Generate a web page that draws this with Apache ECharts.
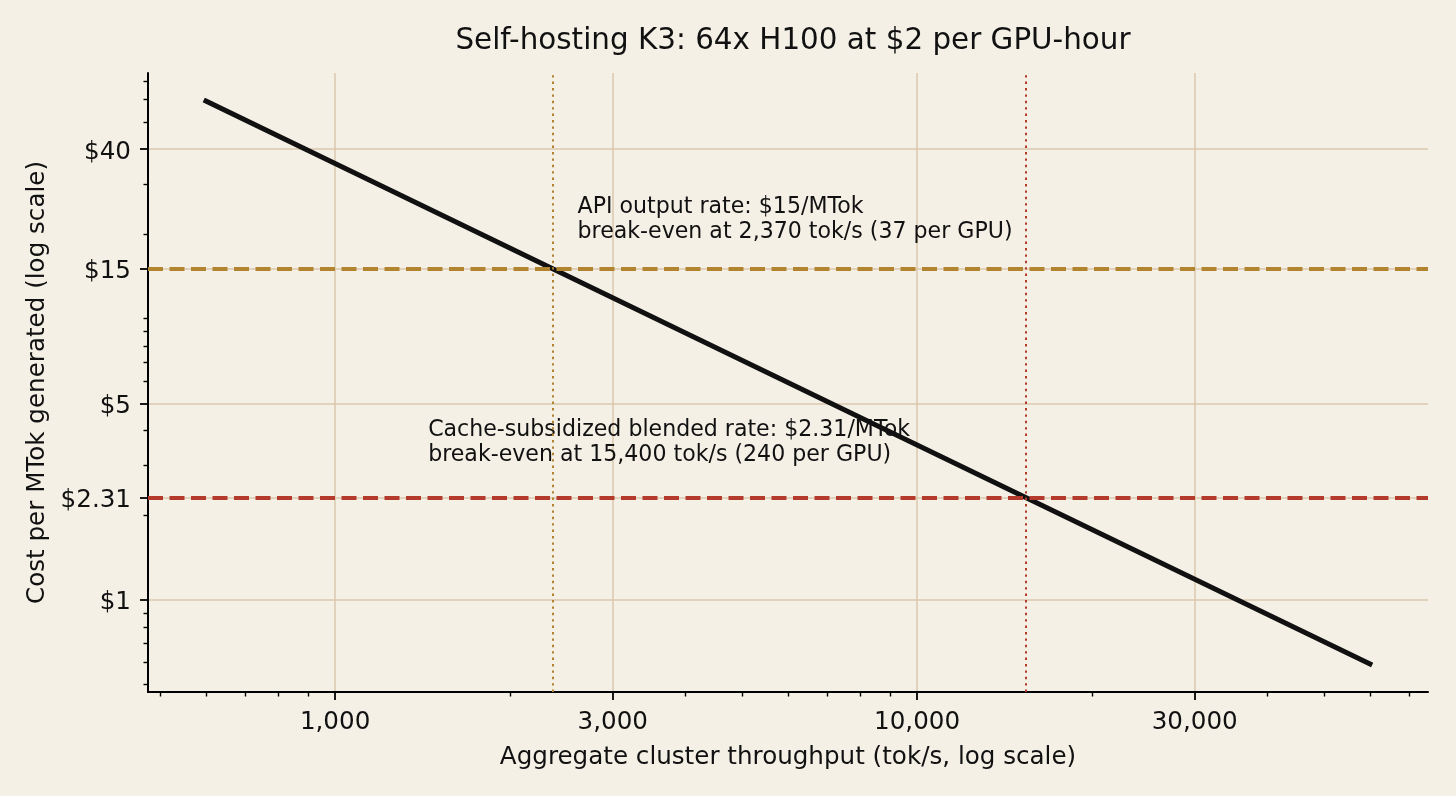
<!DOCTYPE html>
<html>
<head>
<meta charset="utf-8">
<script src="https://cdn.jsdelivr.net/npm/echarts@6/dist/echarts.min.js"></script>
<style>
  html, body { margin: 0; padding: 0; background: #f5f0e6; }
  #chart { width: 1456px; height: 796px; }
</style>
</head>
<body>
<div id="chart"></div>
<script>
// cost per MTok vs aggregate throughput (64x H100 at $2/GPU-hour)
const throughput = [600, 1000, 2370, 15400, 60000]
const costPerMTok = [59.3, 35.6, 15.0, 2.31, 0.593]

const apiRate = 15
const blendedRate = 2.31
const apiBreakEven = 2370
const blendedBreakEven = 15400

const xMajorTicks = [1000, 3000, 10000, 30000]
const xMinorTicks = [500, 600, 700, 800, 900, 2000, 4000, 5000, 6000, 7000, 8000, 9000, 20000, 40000, 50000, 60000, 70000]
const yMajorTicks = [1, 2.31, 5, 15, 40]
const yMajorLabels = ['$1', '$2.31', '$5', '$15', '$40']
const yMinorTicks = [0.5, 0.6, 0.7, 0.8, 0.9, 2, 3, 4, 6, 7, 8, 9, 10, 20, 30, 50, 60, 70]

const xRange = [477, 75500]
const yRange = [0.471, 74.6]

const noteX = [2610, 1445]
const noteY = [18.35, 2.95]
const noteText = [
  'API output rate: $15/MTok\nbreak-even at 2,370 tok/s (37 per GPU)',
  'Cache-subsidized blended rate: $2.31/MTok\nbreak-even at 15,400 tok/s (240 per GPU)'
]

const FONT = 'DejaVu Sans'
const INK = '#111111'
const GOLD = '#b3842f'
const RED = '#b43a2b'
const GRID = '#d8c8ad'

const chart = echarts.init(document.getElementById('chart'))

const yLabel = (v) => {
  let best = 0
  yMajorTicks.forEach((t, i) => {
    if (Math.abs(Math.log(v / t)) < Math.abs(Math.log(v / yMajorTicks[best]))) best = i
  })
  return '{v|' + yMajorLabels[best] + '}'
}

const baseX = {
  type: 'log',
  gridIndex: 0,
  min: xRange[0],
  max: xRange[1],
  position: 'bottom'
}
const baseY = {
  type: 'log',
  gridIndex: 0,
  min: yRange[0],
  max: yRange[1],
  position: 'left'
}

chart.setOption({
  backgroundColor: '#f5f0e6',
  animation: false,
  textStyle: { fontFamily: FONT },
  title: {
    text: 'Self-hosting K3: 64x H100 at $2 per GPU-hour',
    left: 788,
    top: 22,
    textAlign: 'center',
    textStyle: { fontFamily: FONT, fontSize: 29.4, fontWeight: 'normal', color: INK }
  },
  grid: { left: 148, right: 28, top: 73, bottom: 104 },
  xAxis: [
    {
      ...baseX,
      name: 'Aggregate cluster throughput (tok/s, log scale)',
      nameLocation: 'middle',
      nameGap: 53,
      nameTextStyle: { fontFamily: FONT, fontSize: 24.6, color: INK },
      axisLine: { show: true, lineStyle: { color: '#000', width: 2 } },
      axisTick: { show: true, length: 8, lineStyle: { color: '#000', width: 1.8 }, customValues: xMajorTicks },
      axisLabel: {
        show: true,
        margin: 18,
        fontFamily: FONT,
        fontSize: 24.6,
        color: INK,
        customValues: xMajorTicks,
        formatter: (v) => Math.round(v).toLocaleString('en-US')
      },
      splitLine: { show: true, lineStyle: { color: GRID, width: 1.5 } },
      minorTick: { show: false },
      minorSplitLine: { show: false }
    },
    {
      ...baseX,
      axisLine: { show: false },
      axisTick: { show: true, length: 4.5, lineStyle: { color: '#000', width: 1.4 }, customValues: xMinorTicks },
      axisLabel: { show: false },
      splitLine: { show: false }
    }
  ],
  yAxis: [
    {
      ...baseY,
      name: 'Cost per MTok generated (log scale)',
      nameLocation: 'middle',
      nameGap: 98,
      nameTextStyle: { fontFamily: FONT, fontSize: 24.6, color: INK },
      axisLine: { show: true, lineStyle: { color: '#000', width: 2 } },
      axisTick: { show: true, length: 8, lineStyle: { color: '#000', width: 1.8 }, customValues: yMajorTicks },
      axisLabel: {
        show: true,
        margin: 17,
        fontFamily: FONT,
        fontSize: 24.6,
        color: INK,
        customValues: yMajorTicks,
        formatter: yLabel,
        rich: {
          v: { fontFamily: FONT, fontSize: 24.6, color: INK, padding: [6, 0, 0, 0] }
        }
      },
      splitLine: { show: true, lineStyle: { color: GRID, width: 1.5 } },
      minorTick: { show: false },
      minorSplitLine: { show: false }
    },
    {
      ...baseY,
      axisLine: { show: false },
      axisTick: { show: true, length: 4.5, lineStyle: { color: '#000', width: 1.4 }, customValues: yMinorTicks },
      axisLabel: { show: false },
      splitLine: { show: false }
    }
  ],
  series: [
    {
      // annotation texts, under the cost line
      type: 'scatter',
      z: 1,
      symbolSize: 0,
      silent: true,
      itemStyle: { opacity: 1 },
      data: noteX.map((x, i) => ({ value: [x, noteY[i]], label: { formatter: noteText[i] } })),
      label: {
        show: true,
        position: 'right',
        distance: 0,
        align: 'left',
        verticalAlign: 'bottom',
        fontFamily: FONT,
        fontSize: 22.1,
        lineHeight: 25,
        color: INK
      }
    },
    {
      type: 'line',
      z: 2,
      data: throughput.map((t, i) => [t, costPerMTok[i]]),
      showSymbol: false,
      symbol: 'none',
      lineStyle: { color: INK, width: 5, cap: 'square' },
      markLine: {
        silent: true,
        symbol: 'none',
        label: { show: false },
        z: 5,
        data: [
          { yAxis: apiRate, lineStyle: { color: GOLD, width: 4, type: [15, 6.5] } },
          { yAxis: blendedRate, lineStyle: { color: RED, width: 4, type: [15, 6.5] } },
          { xAxis: apiBreakEven, lineStyle: { color: GOLD, width: 2, type: [2.4, 4] } },
          { xAxis: blendedBreakEven, lineStyle: { color: RED, width: 2, type: [2.4, 4] } }
        ]
      }
    }
  ]
})

window.addEventListener('resize', () => {
  chart.resize()
})
</script>
</body>
</html>
